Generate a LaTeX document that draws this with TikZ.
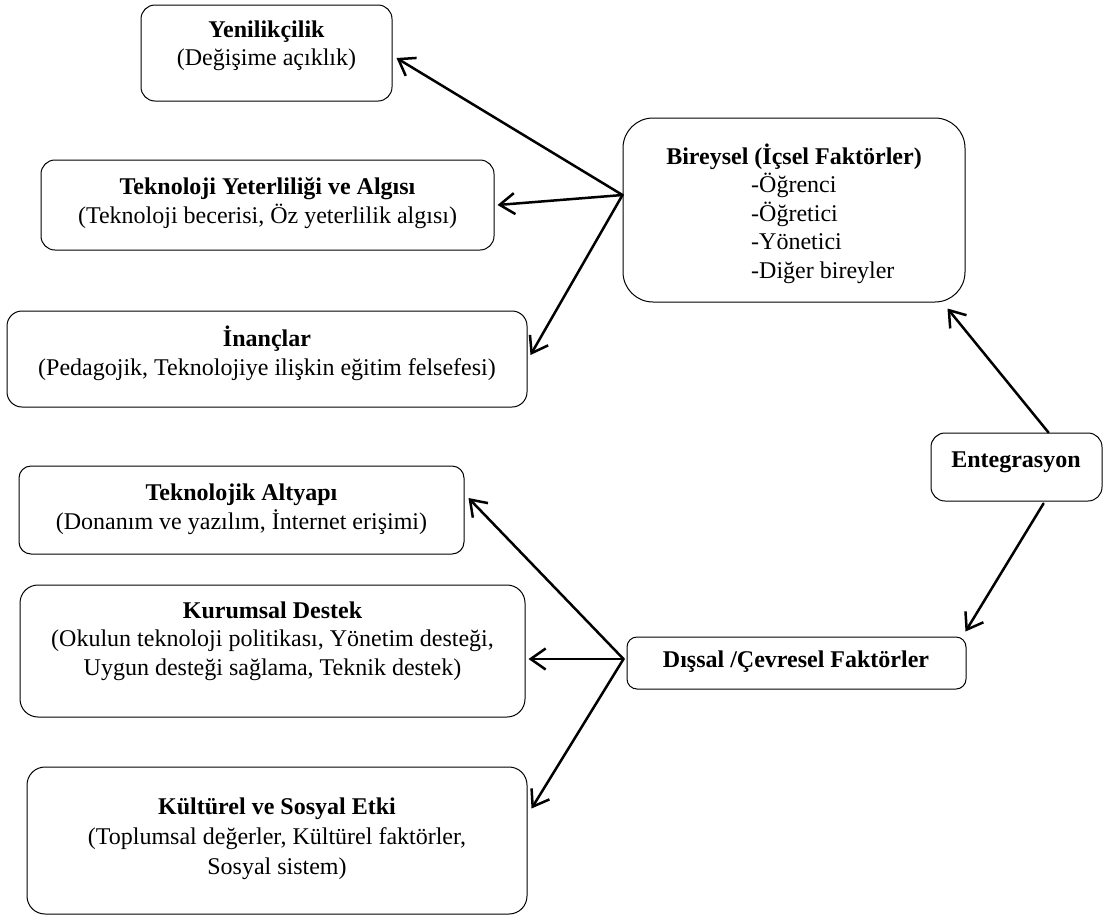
\documentclass[tikz,border=0pt]{standalone}
\usepackage{fontspec}
\setmainfont{Liberation Serif}
\usetikzlibrary{arrows.meta}

\begin{document}
\begin{tikzpicture}[x=1pt,y=-1pt,
  box/.style={draw, line width=1pt, rounded corners=14pt, inner sep=0pt},
  txt/.style={align=center, inner sep=0pt, font=\fontsize{24}{28.5}\selectfont},
  arr/.style={line width=2.5pt, line cap=round, -{Straight Barb[length=15pt,width=21pt,line width=2.5pt]}}]
\useasboundingbox (0,0) rectangle (1111,919);

% individual (internal) factors
\node[box, minimum width=251pt, minimum height=96pt] (Y) at (266.5,53) {};
\node[txt] (Yt) at (266.5,46) {\textbf{Yenilikçilik}\\(Değişime açıklık)};

\node[box, minimum width=453pt, minimum height=90pt] (T) at (267.5,205) {};
\node[txt] (Tt) at (267.5,203) {\textbf{Teknoloji Yeterliliği ve Algısı}\\(Teknoloji becerisi, Öz yeterlilik algısı)};

\node[box, minimum width=520pt, minimum height=96pt, rounded corners=15pt] (I) at (267,359) {};
\node[txt] (It) at (267,353.5) {\textbf{İnançlar}\\(Pedagojik, Teknolojiye ilişkin eğitim felsefesi)};

\node[box, minimum width=342pt, minimum height=184pt, rounded corners=30pt] (B) at (794,210) {};
\node[txt] (Bt) at (794,157) {\textbf{Bireysel (İçsel Faktörler)}};
\node[txt, align=left, anchor=west] (Bl) at (751,228.5) {-Öğrenci\\-Öğretici\\-Yönetici\\-Diğer bireyler};

% integration
\node[box, minimum width=171pt, minimum height=68pt] (E) at (1016.5,467) {};
\node[txt] (Et) at (1016,462) {\textbf{Entegrasyon}};

% external (environmental) factors
\node[box, minimum width=339pt, minimum height=52pt, rounded corners=10pt] (D) at (796.5,663) {};
\node[txt] (Dt) at (796,662) {\textbf{Dışsal /Çevresel Faktörler}};

\node[box, minimum width=445pt, minimum height=88pt, rounded corners=12pt] (TA) at (241.5,510) {};
\node[txt] (TAt) at (241.5,509.5) {\textbf{Teknolojik Altyapı}\\(Donanım ve yazılım, İnternet erişimi)};

\node[box, minimum width=505pt, minimum height=132pt, rounded corners=18pt] (K) at (272.5,651) {};
\node[txt] (Kt) at (272.5,641) {\textbf{Kurumsal Destek}\\(Okulun teknoloji politikası, Yönetim desteği,\\Uygun desteği sağlama, Teknik destek)};

\node[box, minimum width=500pt, minimum height=147pt, rounded corners=18pt] (KS) at (277,840.5) {};
\node[txt, font=\fontsize{24}{30}\selectfont] (KSt) at (277,839) {\textbf{Kültürel ve Sosyal Etki}\\(Toplumsal değerler, Kültürel faktörler,\\Sosyal sistem)};

% connectors
\coordinate (bsrc) at ([yshift=15pt]B.west);
\draw[arr] (bsrc) -- ([shift={(4pt,-5pt)}]Y.east);
\draw[arr] (bsrc) -- ([xshift=3pt]T.east);
\draw[arr] (bsrc) -- ([shift={(3pt,4pt)}]I.east);

\draw[arr] ([xshift=32pt]E.north) -- ([shift={(-18pt,-6pt)}]B.south east);
\draw[arr] ([shift={(27pt,-2pt)}]E.south) -- ([shift={(-1pt,5pt)}]D.north east);

\coordinate (dsrc) at ([shift={(-3pt,4pt)}]D.west);
\draw[arr] (dsrc) -- ([shift={(4pt,12pt)}]TA.east);
\draw[arr] (dsrc) -- ([shift={(3pt,-8pt)}]K.east);
\draw[arr] (dsrc) -- ([shift={(4pt,32pt)}]KS.east);
\end{tikzpicture}
\end{document}
